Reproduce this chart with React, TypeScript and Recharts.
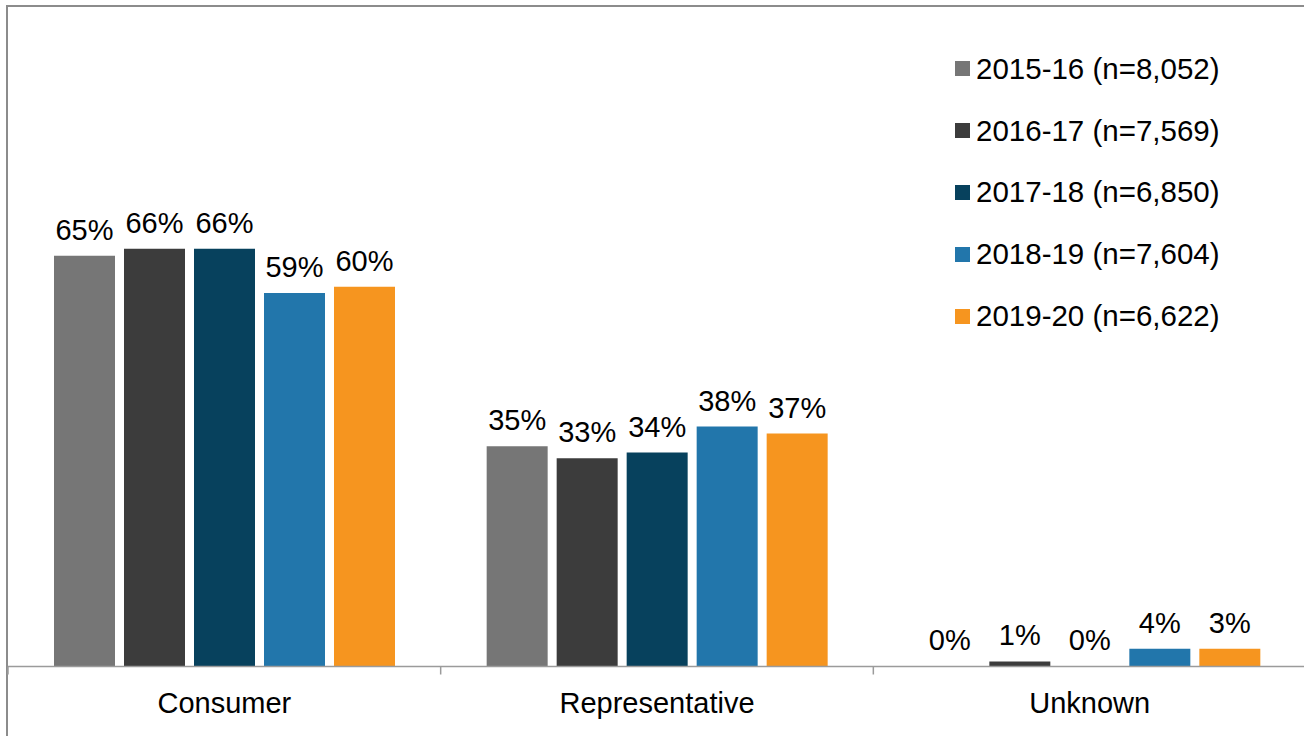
import React from 'react';
import { BarChart, Bar, XAxis, YAxis, LabelList } from 'recharts';

const categories = ['Consumer', 'Representative', 'Unknown'];
const seriesNames = [
  '2015-16 (n=8,052)',
  '2016-17 (n=7,569)',
  '2017-18 (n=6,850)',
  '2018-19 (n=7,604)',
  '2019-20 (n=6,622)',
];
const seriesColors = ['#767676', '#3c3c3c', '#07415d', '#2276ab', '#f6951f'];

// bar heights (percent) (0% drawn as a hairline-free tiny value so its label shows)
const s2015_16 = [64.9, 34.8, 0.01];
const s2016_17 = [66, 32.9, 0.8];
const s2017_18 = [66, 33.8, 0.01];
const s2018_19 = [59, 37.9, 2.8];
const s2019_20 = [60, 36.8, 2.8];
const seriesValues = [s2015_16, s2016_17, s2017_18, s2018_19, s2019_20];

// data labels as printed
const l2015_16 = ['65%', '35%', '0%'];
const l2016_17 = ['66%', '33%', '1%'];
const l2017_18 = ['66%', '34%', '0%'];
const l2018_19 = ['59%', '38%', '4%'];
const l2019_20 = ['60%', '37%', '3%'];
const seriesLabels = [l2015_16, l2016_17, l2017_18, l2018_19, l2019_20];

const data = categories.map((c, i) => {
  const row: Record<string, string | number> = { category: c };
  seriesValues.forEach((vals, k) => {
    row['s' + k] = vals[i];
    row['l' + k] = seriesLabels[k][i];
  });
  return row;
});

const FONT = '"Liberation Sans", Arial, sans-serif';
const CHART_W = 1310;
const CHART_H = 736;
const M_LEFT = 8;
const M_RIGHT = 4;
const M_TOP = 33.5;
const PLOT_H = 633;
const AXIS_H = 40;
const M_BOTTOM = CHART_H - M_TOP - PLOT_H - AXIS_H;
const PLOT_W = CHART_W - M_LEFT - M_RIGHT;
const AXIS_Y = M_TOP + PLOT_H;

const CategoryTick = (props: any) => {
  const { x, payload, index } = props;
  const bw = PLOT_W / categories.length;
  return (
    <g>
      <line x1={x - bw / 2} y1={AXIS_Y} x2={x - bw / 2} y2={AXIS_Y + 8} stroke="#9b9b9b" strokeWidth={1.5} />
      {index === categories.length - 1 && (
        <line x1={x + bw / 2} y1={AXIS_Y} x2={x + bw / 2} y2={AXIS_Y + 8} stroke="#9b9b9b" strokeWidth={1.5} />
      )}
      <text x={x} y={AXIS_Y + 46} textAnchor="middle" fontSize={29} fontFamily={FONT} fill="#000">
        {payload.value}
      </text>
    </g>
  );
};

const LegendBox = () => (
  <div style={{ position: 'absolute', left: 955, top: 38, fontFamily: FONT, fontSize: 29.5, color: '#000' }}>
    {seriesNames.map((name, i) => (
      <div key={name} style={{ height: 61.8, display: 'flex', alignItems: 'center', whiteSpace: 'nowrap' }}>
        <span style={{ display: 'inline-block', width: 15, height: 15, background: seriesColors[i], marginRight: 6 }} />
        <span>{name}</span>
      </div>
    ))}
  </div>
);

export default function App() {
  return (
    <div style={{ position: 'fixed', left: 0, top: 0, width: 1304, height: 736, overflow: 'hidden', background: '#fff' }}>
      <div
        style={{
          position: 'absolute',
          left: 6,
          top: 5,
          width: 1320,
          height: 760,
          border: '2px solid #8c8c8c',
          boxSizing: 'border-box',
        }}
      />
      <div style={{ position: 'absolute', left: 0, top: 0 }}>
        <BarChart
          width={CHART_W}
          height={CHART_H}
          data={data}
          margin={{ top: M_TOP, right: M_RIGHT, bottom: M_BOTTOM, left: M_LEFT }}
          barCategoryGap={46}
          barGap={9}
        >
          <XAxis
            dataKey="category"
            height={AXIS_H}
            tickLine={false}
            axisLine={{ stroke: '#9b9b9b', strokeWidth: 1.5 }}
            tick={<CategoryTick />}
            interval={0}
          />
          <YAxis hide domain={[0, 100]} />
          {seriesNames.map((name, k) => (
            <Bar key={name} dataKey={'s' + k} name={name} fill={seriesColors[k]} isAnimationActive={false}>
              <LabelList
                dataKey={'l' + k}
                position="top"
                offset={16}
                fill="#000"
                fontSize={29}
                fontFamily={FONT}
              />
            </Bar>
          ))}
        </BarChart>
      </div>
      <LegendBox />
    </div>
  );
}
